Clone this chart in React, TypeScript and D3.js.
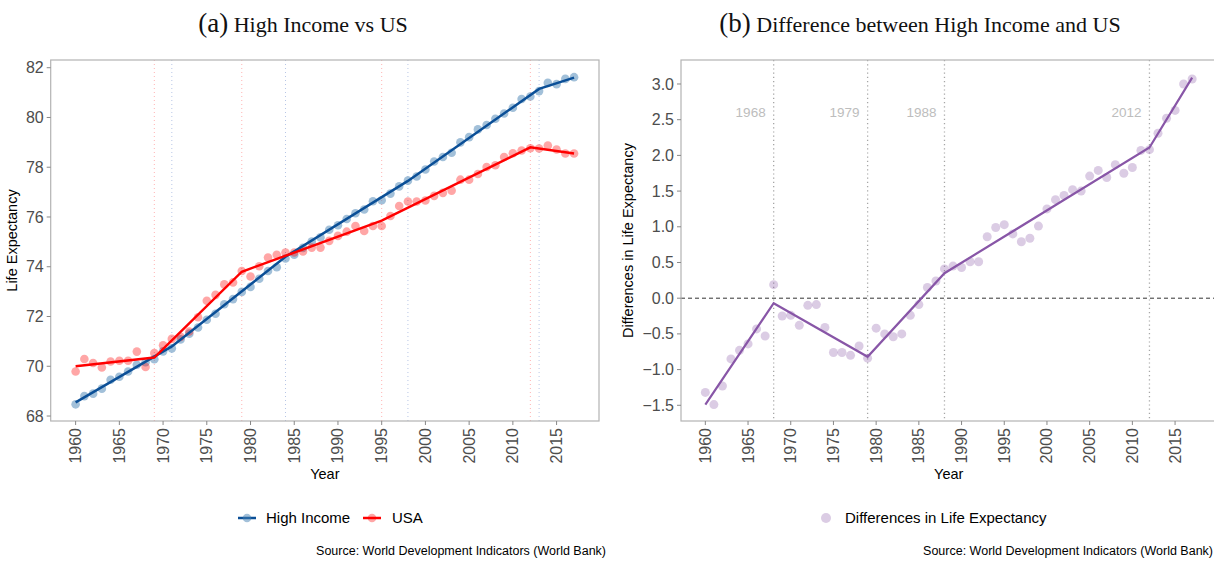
import React from "react";
import * as d3 from "d3";

const years = [1960,1961,1962,1963,1964,1965,1966,1967,1968,1969,1970,1971,1972,1973,1974,1975,1976,1977,1978,1979,1980,1981,1982,1983,1984,1985,1986,1987,1988,1989,1990,1991,1992,1993,1994,1995,1996,1997,1998,1999,2000,2001,2002,2003,2004,2005,2006,2007,2008,2009,2010,2011,2012,2013,2014,2015,2016,2017];

const usa = [69.79,70.29,70.13,69.95,70.19,70.22,70.22,70.59,69.97,70.53,70.84,71.10,71.18,71.40,71.97,72.63,72.87,73.29,73.37,73.83,73.61,74.02,74.37,74.48,74.57,74.57,74.61,74.77,74.77,75.04,75.24,75.41,75.64,75.44,75.64,75.64,76.04,76.44,76.62,76.62,76.66,76.85,76.97,77.06,77.50,77.50,77.73,78.01,78.08,78.41,78.56,78.67,78.76,78.75,78.87,78.71,78.55,78.55];

const highIncome = [68.47,68.80,68.90,69.10,69.46,69.58,69.79,70.06,70.16,70.28,70.60,70.72,71.08,71.31,71.56,71.87,72.11,72.49,72.70,72.99,73.19,73.52,73.83,73.98,74.33,74.48,74.76,75.01,75.18,75.49,75.67,75.92,76.15,76.30,76.63,76.67,76.94,77.23,77.46,77.63,77.91,78.23,78.41,78.58,79.00,79.21,79.52,79.70,79.95,80.16,80.39,80.74,80.84,81.06,81.39,81.34,81.55,81.62];

const difference = [-1.32,-1.49,-1.23,-0.85,-0.73,-0.64,-0.43,-0.53,0.19,-0.25,-0.24,-0.38,-0.10,-0.09,-0.41,-0.76,-0.76,-0.80,-0.67,-0.84,-0.42,-0.50,-0.54,-0.50,-0.24,-0.09,0.15,0.24,0.41,0.45,0.43,0.51,0.51,0.86,0.99,1.03,0.90,0.79,0.84,1.01,1.25,1.38,1.44,1.52,1.50,1.71,1.79,1.69,1.87,1.75,1.83,2.07,2.08,2.31,2.52,2.63,3.00,3.07];

// segmented fits
const usaFitYears = [1960, 1969, 1979, 1995, 2012, 2017];
const usaFitValues = [70.0, 70.35, 73.8, 75.85, 78.8, 78.55];
const hiFitYears = [1960, 1971, 1984, 1998, 2013, 2017];
const hiFitValues = [68.55, 70.8, 74.4, 77.45, 81.15, 81.6];
const diffFitYears = [1960, 1968, 1979, 1988, 2012, 2017];
const diffFitValues = [-1.49, -0.07, -0.82, 0.35, 2.11, 3.09];

const usaBreaks = [1969, 1979, 1995, 2012];
const hiBreaks = [1971, 1984, 1998, 2013];
const diffBreaks = [1968, 1979, 1988, 2012];

const xTicks = [1960, 1965, 1970, 1975, 1980, 1985, 1990, 1995, 2000, 2005, 2010, 2015];
const yTicksLeft = [68, 70, 72, 74, 76, 78, 80, 82];
const yTicksRight = [-1.5, -1.0, -0.5, 0.0, 0.5, 1.0, 1.5, 2.0, 2.5, 3.0];

const SANS = "'Liberation Sans', Arial, Helvetica, sans-serif";
const SERIF = "'Liberation Serif', 'DejaVu Serif', serif";

const TOP = 60;
const BOTTOM = 421;

const xL = d3.scaleLinear().domain([1957.15, 2019.85]).range([50.7, 599]);
const yL = d3.scaleLinear().domain([67.8, 82.31]).range([BOTTOM, TOP]);
const xR = d3.scaleLinear().domain([1957.15, 2019.85]).range([681, 1216.5]);
const yR = d3.scaleLinear().domain([-1.72, 3.336]).range([BOTTOM, TOP]);

const fmtR = (v: number) => {
  const s = Math.abs(v).toFixed(1);
  return v < 0 ? "\u2212" + s : s;
};

function XAxis({ x }: { x: d3.ScaleLinear<number, number> }) {
  return (
    <g>
      {xTicks.map((t) => (
        <g key={t}>
          <line x1={x(t)} x2={x(t)} y1={BOTTOM} y2={BOTTOM + 4} stroke="#888" strokeWidth={1} />
          <text
            transform={`translate(${x(t) + 5.5},${BOTTOM + 7}) rotate(-90)`}
            textAnchor="end"
            fontFamily={SANS}
            fontSize={16}
            fill="#4d4d4d"
          >
            {t}
          </text>
        </g>
      ))}
    </g>
  );
}

export default function App() {
  const lineL = d3
    .line<[number, number]>()
    .x((d) => xL(d[0]))
    .y((d) => yL(d[1]));
  const lineR = d3
    .line<[number, number]>()
    .x((d) => xR(d[0]))
    .y((d) => yR(d[1]));

  const usaFit = usaFitYears.map((y, i) => [y, usaFitValues[i]] as [number, number]);
  const hiFit = hiFitYears.map((y, i) => [y, hiFitValues[i]] as [number, number]);
  const diffFit = diffFitYears.map((y, i) => [y, diffFitValues[i]] as [number, number]);

  const [l0, l1] = xL.range();
  const [r0, r1] = xR.range();

  return (
    <svg width={1214} height={561} style={{ display: "block", position: "absolute", left: 0, top: 0 }}>
      <rect x={0} y={0} width={1214} height={561} fill="#fff" />
      <defs>
        <clipPath id="clipR">
          <rect x={r0} y={TOP} width={r1 - r0} height={BOTTOM - TOP} />
        </clipPath>
      </defs>

      {/* Titles */}
      <text x={303} y={32} textAnchor="middle" fontFamily={SERIF} fill="#111">
        <tspan fontSize={27}>(a)</tspan>
        <tspan fontSize={22}> High Income vs US</tspan>
      </text>
      <text x={920} y={32} textAnchor="middle" fontFamily={SERIF} fill="#111">
        <tspan fontSize={27}>(b)</tspan>
        <tspan fontSize={22}> Difference between High Income and US</tspan>
      </text>

      {/* ---------- Left panel ---------- */}
      <g>
        {usaBreaks.map((b) => (
          <line key={"ub" + b} x1={xL(b)} x2={xL(b)} y1={TOP} y2={BOTTOM} stroke="#ffb3b3" strokeWidth={1} strokeDasharray="1,3" />
        ))}
        {hiBreaks.map((b) => (
          <line key={"hb" + b} x1={xL(b)} x2={xL(b)} y1={TOP} y2={BOTTOM} stroke="#b8c6e6" strokeWidth={1} strokeDasharray="1,3" />
        ))}
        {years.map((yr, i) => (
          <circle key={"hp" + yr} cx={xL(yr)} cy={yL(highIncome[i])} r={4.3} fill="steelblue" fillOpacity={0.5} />
        ))}
        {years.map((yr, i) => (
          <circle key={"up" + yr} cx={xL(yr)} cy={yL(usa[i])} r={4.3} fill="#ff0000" fillOpacity={0.35} />
        ))}
        <path d={lineL(hiFit) || ""} fill="none" stroke="#0b4f97" strokeWidth={2.5} />
        <path d={lineL(usaFit) || ""} fill="none" stroke="#ff0000" strokeWidth={2.5} />
        <rect x={l0} y={TOP} width={l1 - l0} height={BOTTOM - TOP} fill="none" stroke="#b3b3b3" strokeWidth={1.2} />
        {yTicksLeft.map((t) => (
          <g key={"yl" + t}>
            <line x1={l0 - 4} x2={l0} y1={yL(t)} y2={yL(t)} stroke="#888" />
            <text x={l0 - 7} y={yL(t)} dy="0.35em" textAnchor="end" fontFamily={SANS} fontSize={16} fill="#4d4d4d">
              {t}
            </text>
          </g>
        ))}
        <XAxis x={xL} />
        <text transform={`translate(17,${(TOP + BOTTOM) / 2}) rotate(-90)`} textAnchor="middle" fontFamily={SANS} fontSize={14.5} fill="#000">
          Life Expectancy
        </text>
        <text x={(l0 + l1) / 2} y={479} textAnchor="middle" fontFamily={SANS} fontSize={14.5} fill="#000">
          Year
        </text>
        {/* legend */}
        <line x1={238} x2={256} y1={518} y2={518} stroke="#0b4f97" strokeWidth={2.5} />
        <circle cx={247} cy={518} r={4.3} fill="steelblue" fillOpacity={0.5} />
        <text x={266} y={518} dy="0.35em" fontFamily={SANS} fontSize={15} fill="#000">High Income</text>
        <line x1={363} x2={381} y1={518} y2={518} stroke="#ff0000" strokeWidth={2.5} />
        <circle cx={372} cy={518} r={4.3} fill="#ff0000" fillOpacity={0.35} />
        <text x={392} y={518} dy="0.35em" fontFamily={SANS} fontSize={15} fill="#000">USA</text>
        <text x={606} y={555} textAnchor="end" fontFamily={SANS} fontSize={12.5} fill="#000">
          Source: World Development Indicators (World Bank)
        </text>
      </g>

      {/* ---------- Right panel ---------- */}
      <g>
        <g clipPath="url(#clipR)">
          <line x1={r0} x2={r1} y1={yR(0)} y2={yR(0)} stroke="#333" strokeWidth={1} strokeDasharray="4,3" />
          {diffBreaks.map((b) => (
            <line key={"db" + b} x1={xR(b)} x2={xR(b)} y1={TOP} y2={BOTTOM} stroke="#a6a6a6" strokeWidth={1.3} strokeDasharray="1.2,3" />
          ))}
          {diffBreaks.map((b) => (
            <text key={"dt" + b} x={xR(b) - 8} y={yR(2.6)} dy="0.35em" textAnchor="end" fontFamily={SANS} fontSize={13.5} fill="#bdbdbd">
              {b}
            </text>
          ))}
          {years.map((yr, i) => (
            <circle key={"dp" + yr} cx={xR(yr)} cy={yR(difference[i])} r={4.5} fill="#8856a7" fillOpacity={0.3} />
          ))}
          <path d={lineR(diffFit) || ""} fill="none" stroke="#8856a7" strokeWidth={2.2} />
        </g>
        <rect x={r0} y={TOP} width={r1 - r0} height={BOTTOM - TOP} fill="none" stroke="#b3b3b3" strokeWidth={1.2} />
        {yTicksRight.map((t) => (
          <g key={"yr" + t}>
            <line x1={r0 - 4} x2={r0} y1={yR(t)} y2={yR(t)} stroke="#888" />
            <text x={r0 - 7} y={yR(t)} dy="0.35em" textAnchor="end" fontFamily={SANS} fontSize={16} fill="#4d4d4d">
              {fmtR(t)}
            </text>
          </g>
        ))}
        <XAxis x={xR} />
        <text transform={`translate(633,${(TOP + BOTTOM) / 2}) rotate(-90)`} textAnchor="middle" fontFamily={SANS} fontSize={14.5} fill="#000">
          Differences in Life Expectancy
        </text>
        <text x={(r0 + r1) / 2} y={479} textAnchor="middle" fontFamily={SANS} fontSize={14.5} fill="#000">
          Year
        </text>
        <circle cx={826} cy={518} r={5} fill="#8856a7" fillOpacity={0.3} />
        <text x={845} y={518} dy="0.35em" fontFamily={SANS} fontSize={15} fill="#000">Differences in Life Expectancy</text>
        <text x={1213} y={555} textAnchor="end" fontFamily={SANS} fontSize={12.5} fill="#000">
          Source: World Development Indicators (World Bank)
        </text>
      </g>
    </svg>
  );
}
